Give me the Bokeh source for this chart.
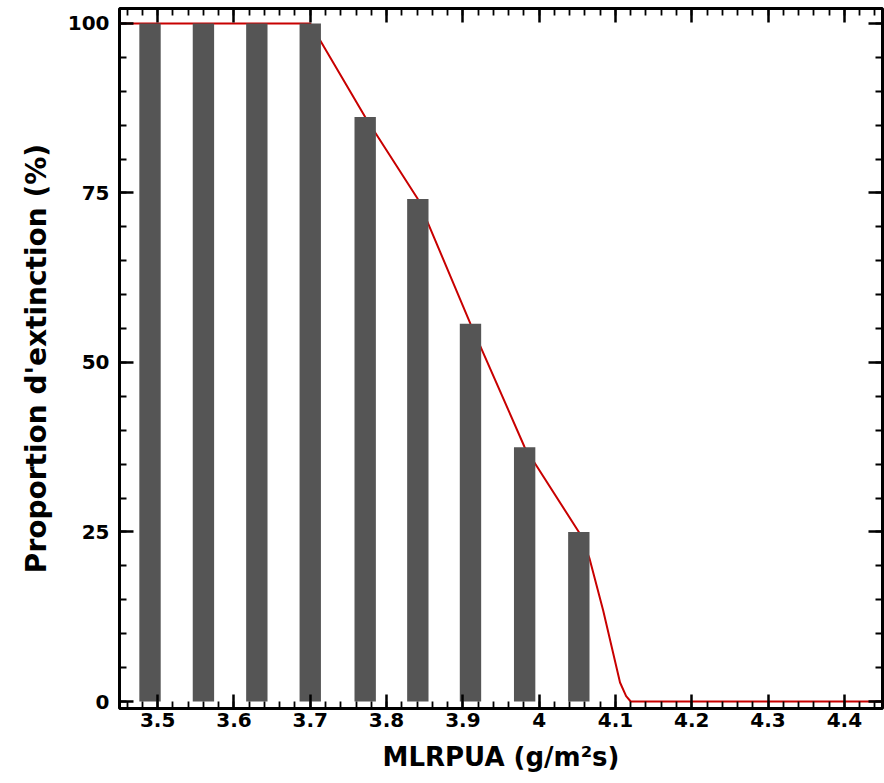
from bokeh.plotting import figure
from bokeh.models import Range1d, FixedTicker, LinearAxis
from bokeh.embed import file_html
from bokeh.resources import INLINE

# ---- data ----
bar_x = [3.49, 3.56, 3.63, 3.70, 3.772, 3.841, 3.91, 3.981, 4.052]
bar_y = [100, 100, 100, 100, 86.2, 74.1, 55.7, 37.5, 25.0]

line_x = [3.45, 3.49, 3.56, 3.63, 3.70, 3.772, 3.841, 3.91, 3.981, 4.052,
          4.066, 4.084, 4.106, 4.114, 4.12, 4.45]
line_y = [100, 100, 100, 100, 100, 86.2, 74.1, 55.7, 37.5, 25.0,
          21.1, 13.4, 2.8, 0.8, 0.0, 0.0]

x_ticks = [3.5, 3.6, 3.7, 3.8, 3.9, 4.0, 4.1, 4.2, 4.3, 4.4]
x_tick_labels = ["3.5", "3.6", "3.7", "3.8", "3.9", "4", "4.1", "4.2", "4.3", "4.4"]
x_minor = [round(3.46 + 0.02 * i, 2) for i in range(50)]
y_ticks = [0, 25, 50, 75, 100]
y_tick_labels = ["0", "25", "50", "75", "100"]
y_minor = [5 * i for i in range(21)]

x_title = "MLRPUA (g/m²s)"
y_title = "Proportion d'extinction (%)"

FONT = "DejaVu Sans"

p = figure(width=884, height=783, output_backend="svg", toolbar_location=None,
           x_range=Range1d(3.45, 4.45), y_range=Range1d(-1.03, 102.2),
           x_axis_location=None, y_axis_location=None,
           min_border_left=119, min_border_right=2, min_border_top=8,
           min_border_bottom=75)
p.background_fill_color = "white"
p.border_fill_color = "white"
p.grid.visible = False
p.outline_line_color = "black"
p.outline_line_width = 3

p.line(line_x, line_y, line_color="#c80000", line_width=2)
p.vbar(x=bar_x, top=bar_y, bottom=0, width=0.028, fill_color="#555555", line_color=None)

def style(ax, labels=True):
    ax.axis_line_color = None
    ax.major_tick_in = 14
    ax.major_tick_out = 0
    ax.minor_tick_in = 7
    ax.minor_tick_out = 0
    ax.major_tick_line_width = 2.5
    ax.minor_tick_line_width = 1.8
    ax.major_tick_line_color = "black"
    ax.minor_tick_line_color = "black"
    if labels:
        ax.major_label_text_font = FONT
        ax.major_label_text_font_style = "bold"
        ax.major_label_text_font_size = "20px"
        ax.major_label_text_color = "black"
        ax.axis_label_text_font = FONT
        ax.axis_label_text_font_style = "bold"
        ax.axis_label_text_font_size = "26px"
        ax.axis_label_text_color = "black"
    else:
        ax.major_label_text_font_size = "1px"
        ax.major_label_standoff = 0

xt = FixedTicker(ticks=x_ticks, minor_ticks=x_minor)
yt = FixedTicker(ticks=y_ticks, minor_ticks=y_minor)

xb = LinearAxis(ticker=xt, axis_label=x_title,
                major_label_overrides={t: l for t, l in zip(x_ticks, x_tick_labels)})
style(xb)
xb.major_label_standoff = 4
xb.axis_label_standoff = 12
p.add_layout(xb, "below")

yl = LinearAxis(ticker=yt, axis_label=y_title,
                major_label_overrides={t: l for t, l in zip(y_ticks, y_tick_labels)})
style(yl)
yl.axis_label_text_font_size = "28px"
yl.major_label_standoff = 10
yl.axis_label_standoff = 12
p.add_layout(yl, "left")

xa = LinearAxis(ticker=xt, major_label_overrides={t: "" for t in x_ticks})
style(xa, labels=False)
p.add_layout(xa, "above")

yr = LinearAxis(ticker=yt, major_label_overrides={t: "" for t in y_ticks})
style(yr, labels=False)
p.add_layout(yr, "right")

open("out.html", "w").write(file_html(p, INLINE))
